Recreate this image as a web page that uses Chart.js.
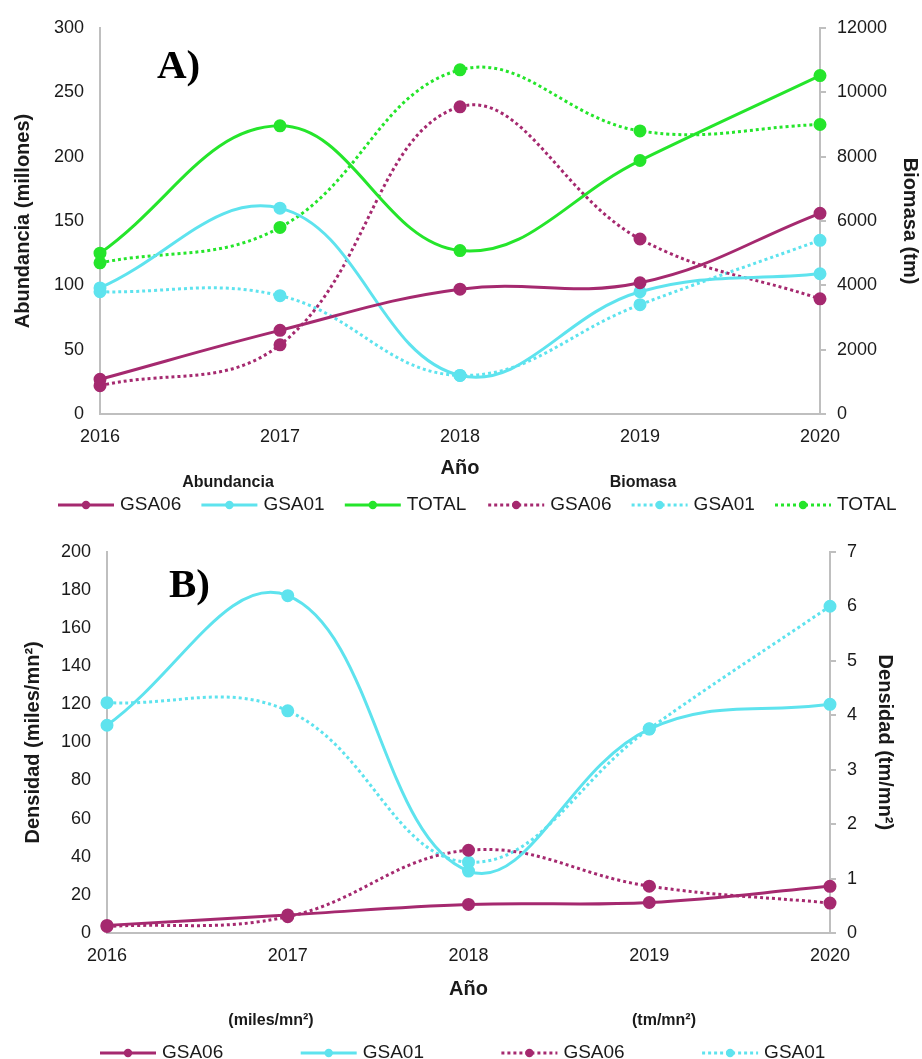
<!DOCTYPE html>
<html>
<head>
<meta charset="utf-8">
<script src="https://cdn.jsdelivr.net/npm/chart.js@4/dist/chart.umd.min.js"></script>
<style>
  html, body { margin: 0; padding: 0; background: #fff; }
  body { width: 922px; height: 1059px; position: relative; overflow: hidden; }
  .panel { position: absolute; left: 0; width: 922px; }
  #wrapA { top: 0; height: 525px; }
  #wrapB { top: 525px; height: 534px; }
</style>
</head>
<body>
<div class="panel" id="wrapA"><canvas id="chartA" width="922" height="525"></canvas></div>
<div class="panel" id="wrapB"><canvas id="chartB" width="922" height="534"></canvas></div>
<script>
// Years on the horizontal axis
const years = ['2016', '2017', '2018', '2019', '2020'];

// Panel A: abundance (millions) - left axis
const abundGSA06 = [27, 65, 97, 102, 156];
const abundGSA01 = [98, 160, 30, 95, 109];
const abundTOTAL = [125, 224, 127, 197, 263];

// Panel A: biomass (tm) - right axis
const biomGSA06 = [880, 2150, 9550, 5440, 3580];
const biomGSA01 = [3800, 3680, 1200, 3400, 5400];
const biomTOTAL = [4700, 5800, 10700, 8800, 9000];

// Panel B: density (miles/mn²) - left axis
const densNumGSA06 = [4, 9.5, 15, 16, 24.5];
const densNumGSA01 = [109, 177, 32.5, 107, 120];

// Panel B: density (tm/mn²) - right axis
const densBioGSA06 = [0.12, 0.3, 1.52, 0.86, 0.55];
const densBioGSA01 = [4.23, 4.08, 1.3, 3.75, 6.0];

const MAGENTA = '#A5296F';
const CYAN = '#5EE3EE';
const GREEN = '#25E52B';
const AXIS = '#bfbfbf';
const TXT = '#1a1a1a';
const SANS = '"Liberation Sans", Arial, sans-serif';

Chart.defaults.font.family = SANS;
Chart.defaults.color = TXT;

function series(label, data, color, axis, dotted) {
  return {
    label, data, yAxisID: axis,
    borderColor: color, backgroundColor: color,
    pointBackgroundColor: color, pointBorderColor: color,
    borderWidth: 3,
    borderDash: dotted ? [3, 3] : [],
    pointRadius: 5, pointHoverRadius: 5,
    tension: 0.4, fill: false
  };
}

// Plain integer tick text, no thousands separators
const plainTick = v => String(v);

// Draws the panel letter, the grouped legend and its headings
const decorPlugin = {
  id: 'decor',
  afterDraw(chart, args, opts) {
    const ctx = chart.ctx;
    ctx.save();
    // panel letter
    ctx.fillStyle = '#000';
    ctx.font = 'bold 41px "Liberation Serif", "Times New Roman", serif';
    ctx.textBaseline = 'alphabetic';
    ctx.textAlign = 'left';
    ctx.fillText(opts.letter, opts.letterX, opts.letterY);

    // group headings
    ctx.font = 'bold 16px ' + SANS;
    ctx.textAlign = 'center';
    ctx.textBaseline = 'middle';
    ctx.fillStyle = TXT;
    opts.groups.forEach(g => ctx.fillText(g.text, g.x, opts.groupY));

    // legend items
    const ds = chart.data.datasets;
    ds.forEach((d, i) => {
      const x0 = opts.itemX + i * opts.itemStep;
      const y = opts.itemY;
      const len = 56;
      ctx.strokeStyle = d.borderColor;
      ctx.lineWidth = 3;
      ctx.setLineDash(d.borderDash || []);
      ctx.beginPath();
      ctx.moveTo(x0, y);
      ctx.lineTo(x0 + len, y);
      ctx.stroke();
      ctx.setLineDash([]);
      ctx.fillStyle = d.borderColor;
      ctx.beginPath();
      ctx.arc(x0 + len / 2, y, 4.2, 0, Math.PI * 2);
      ctx.fill();
      ctx.fillStyle = TXT;
      ctx.font = '19px ' + SANS;
      ctx.textAlign = 'left';
      ctx.fillText(d.label, x0 + len + 6, y);
    });
    ctx.restore();
  }
};

function makeOptions(cfg) {
  return {
    responsive: false,
    animation: false,
    events: [],
    layout: { padding: { top: cfg.top, left: 0, right: 0, bottom: 0 } },
    plugins: {
      legend: { display: false },
      tooltip: { enabled: false },
      decor: cfg.decor
    },
    scales: {
      x: {
        type: 'category',
        offset: false,
        grid: { display: false, drawTicks: false },
        border: { display: true, color: AXIS, width: 2 },
        ticks: { padding: 12, font: { size: 18 }, color: TXT },
        title: { display: true, text: 'Año', font: { size: 20, weight: 'bold' }, color: TXT,
                 padding: { top: 0, bottom: cfg.xTitlePad } },
        afterFit(s) { s.height = cfg.xHeight; }
      },
      yL: {
        position: 'left',
        min: 0, max: cfg.leftMax,
        ticks: { stepSize: cfg.leftStep, padding: 16, font: { size: 18 }, color: TXT, callback: plainTick },
        grid: { display: false, drawTicks: false },
        border: { display: true, color: AXIS, width: 2 },
        title: { display: true, text: cfg.leftTitle, font: { size: 20, weight: 'bold' }, color: TXT,
                 padding: { top: cfg.leftTitlePad, bottom: 0 } },
        afterFit(s) { s.width = cfg.leftWidth; }
      },
      yR: {
        position: 'right',
        min: 0, max: cfg.rightMax,
        ticks: { stepSize: cfg.rightStep, padding: 11, font: { size: 18 }, color: TXT, callback: plainTick },
        grid: { display: true, drawOnChartArea: false, drawTicks: true, tickLength: 6, color: AXIS, lineWidth: 2 },
        border: { display: true, color: AXIS, width: 2 },
        title: { display: true, text: cfg.rightTitle, font: { size: 20, weight: 'bold' }, color: TXT,
                 padding: { top: cfg.rightTitlePad, bottom: 0 } },
        afterFit(s) { s.width = cfg.rightWidth; }
      }
    }
  };
}

new Chart(document.getElementById('chartA'), {
  type: 'line',
  data: {
    labels: years,
    datasets: [
      series('GSA06', abundGSA06, MAGENTA, 'yL', false),
      series('GSA01', abundGSA01, CYAN, 'yL', false),
      series('TOTAL', abundTOTAL, GREEN, 'yL', false),
      series('GSA06', biomGSA06, MAGENTA, 'yR', true),
      series('GSA01', biomGSA01, CYAN, 'yR', true),
      series('TOTAL', biomTOTAL, GREEN, 'yR', true)
    ]
  },
  options: makeOptions({
    top: 28, xHeight: 111, xTitlePad: 45,
    leftMax: 300, leftStep: 50, leftTitle: 'Abundancia (millones)', leftTitlePad: 11, leftWidth: 100,
    rightMax: 12000, rightStep: 2000, rightTitle: 'Biomasa (tm)', rightTitlePad: 0, rightWidth: 102,
    decor: {
      letter: 'A)', letterX: 157, letterY: 78,
      groups: [{ text: 'Abundancia', x: 228 }, { text: 'Biomasa', x: 643 }],
      groupY: 483, itemX: 58, itemStep: 143.4, itemY: 505
    }
  }),
  plugins: [decorPlugin]
});

new Chart(document.getElementById('chartB'), {
  type: 'line',
  data: {
    labels: years,
    datasets: [
      series('GSA06', densNumGSA06, MAGENTA, 'yL', false),
      series('GSA01', densNumGSA01, CYAN, 'yL', false),
      series('GSA06', densBioGSA06, MAGENTA, 'yR', true),
      series('GSA01', densBioGSA01, CYAN, 'yR', true)
    ]
  },
  options: makeOptions({
    top: 22, xHeight: 126, xTitlePad: 58,
    leftMax: 200, leftStep: 20, leftTitle: 'Densidad (miles/mn²)', leftTitlePad: 21, leftWidth: 107,
    rightMax: 7, rightStep: 1, rightTitle: 'Densidad (tm/mn²)', rightTitlePad: 25, rightWidth: 92,
    decor: {
      letter: 'B)', letterX: 169, letterY: 72,
      groups: [{ text: '(miles/mn²)', x: 271 }, { text: '(tm/mn²)', x: 664 }],
      groupY: 496, itemX: 100, itemStep: 200.7, itemY: 528
    }
  }),
  plugins: [decorPlugin]
});
</script>
</body>
</html>
